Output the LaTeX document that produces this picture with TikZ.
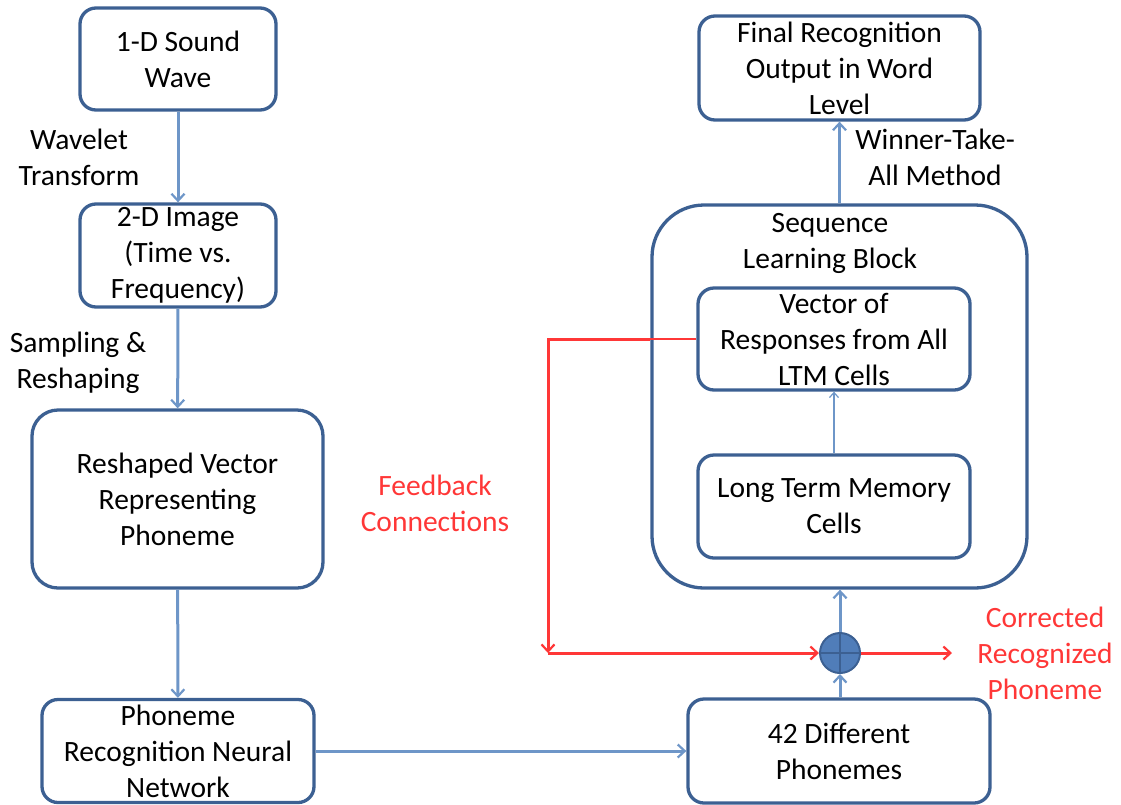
\documentclass[tikz,border=0pt]{standalone}
\usepackage{fontspec}
\setmainfont{Carlito}
\usetikzlibrary{arrows.meta,calc}
\definecolor{boxline}{RGB}{60,96,146}
\definecolor{flow}{RGB}{110,150,200}
\definecolor{fb}{RGB}{255,55,55}
\definecolor{sumfill}{RGB}{80,125,185}
\tikzset{
  txt/.style={font=\fontsize{29.5}{36}\selectfont, align=center, inner sep=0pt},
  stage/.style={txt, draw=boxline, line width=3.3pt, rounded corners=16pt, fill=white},
  flowarrow/.style={draw=flow, line width=3pt, -{Straight Barb[length=7pt,width=13pt,line width=2.2pt]}},
  fbarrow/.style={draw=fb, line width=3pt, -{Straight Barb[length=7pt,width=13pt,line width=2.2pt]}},
  redtxt/.style={txt, text=fb},
}
\begin{document}
\begin{tikzpicture}[x=1pt,y=-1pt]
\useasboundingbox (0,0) rectangle (1121,804);

% left column
\node[stage, minimum width=196pt, minimum height=102pt] (wave) at (178,59) {1-D Sound\\Wave};
\node[stage, minimum width=196pt, minimum height=103pt] (img) at (178,255.5) {2-D Image\\(Time vs.\\Frequency)};
\node[stage, minimum width=291pt, minimum height=178pt, rounded corners=26pt] (vec) at (177.5,499) {Reshaped Vector\\Representing\\Phoneme};
\node[stage, minimum width=272pt, minimum height=103pt] (nn) at (178,751) {Phoneme\\Recognition Neural\\Network};

% right column
\node[stage, minimum width=375pt, minimum height=383pt, rounded corners=52pt] (seq) at (839.5,396.5) {};
\node[txt, anchor=north] (seqlbl) at (830,213) {Sequence\\Learning Block};
\node[stage, minimum width=272pt, minimum height=102pt] (resp) at (834,339) {Vector of\\Responses from All\\LTM Cells};
\node[stage, minimum width=272pt, minimum height=103pt] (ltm) at (834,506.5) {Long Term Memory\\Cells};
\node[stage, minimum width=281pt, minimum height=104pt] (final) at (839.5,68) {Final Recognition\\Output in Word\\Level};
\node[stage, minimum width=302pt, minimum height=104pt] (ph) at (839,751) {42 Different\\Phonemes};

% summing junction
\node[circle, draw=boxline, line width=2pt, fill=sumfill, minimum size=40pt, inner sep=0pt] (sum) at (840,653) {};
\draw[boxline, line width=2pt] (sum.north) -- (sum.south) (sum.west) -- (sum.east);

% edge labels
\node[txt] (l1) at (79,157) {Wavelet\\Transform};
\node[txt] (l2) at (78,363) {Sampling \&\\Reshaping};
\node[txt] (l3) at (935,157) {Winner-Take-\\All Method};
\node[redtxt] (l4) at (435,503) {Feedback\\Connections};
\node[redtxt] (l5) at (1045,653) {Corrected\\Recognized\\Phoneme};

% forward flow
\draw[flowarrow] (wave) -- (img);
\draw[flowarrow] (img) -- (vec);
\draw[flowarrow] (vec) -- (nn);
\draw[flowarrow] (nn) -- (ph);
\draw[flowarrow] (ph.north -| sum) -- (sum);
\draw[flowarrow] (sum) -- (sum |- seq.south);
\draw[flowarrow] (seq.north -| final) -- (final);
\draw[draw=flow, line width=1.5pt, -{Straight Barb[length=5pt,width=9pt,line width=1.2pt]}] (ltm) -- (resp);

% feedback path
\coordinate (fbin) at (seq.west |- resp.west);
\coordinate (fbtop) at (548,339);
\coordinate (fbcorner) at (548,653);
\coordinate (out) at (952,653);
\draw[fb, line width=1.5pt] (resp.west) -- (fbin);
\draw[fbarrow] (fbin) -- (fbtop) -- (fbcorner);
\draw[fbarrow] (fbcorner) -- (sum);
\draw[fbarrow] (sum) -- (out);
\end{tikzpicture}
\end{document}
